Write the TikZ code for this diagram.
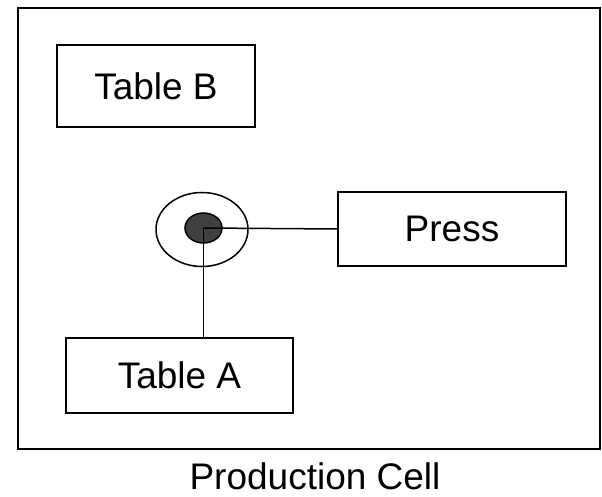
\documentclass[tikz,border=0pt]{standalone}
\usepackage{fontspec}
\setmainfont{Liberation Sans}
\usetikzlibrary{shapes.geometric}
\begin{document}
\begin{tikzpicture}[x=1pt,y=-1pt,
  box/.style={draw,line width=1.5pt,inner sep=0pt,font=\fontsize{37}{40}\selectfont},
  link/.style={line width=1.5pt}]
\useasboundingbox (0,0) rectangle (602,497);
\node[draw,line width=1.5pt,minimum width=582pt,minimum height=441pt,inner sep=0pt] (cell) at (309,228.5) {};
\node[box,minimum width=198pt,minimum height=82pt] (tableB) at (156,86) {Table B};
\node[box,minimum width=227pt,minimum height=75pt] (tableA) at (179.5,375.5) {Table A};
\node[box,minimum width=228pt,minimum height=74pt] (press) at (452,229) {Press};
\node[draw,ellipse,line width=1.5pt,minimum width=92pt,minimum height=74pt,inner sep=0pt] (ring) at (202,229.5) {};
\node[draw,ellipse,line width=1.5pt,fill=black!75,minimum width=37pt,minimum height=30pt,inner sep=0pt] (hub) at (203.5,228) {};
\draw[link] (hub.center) -- (press.west);
\draw[link] (hub.center) -- (hub.center |- tableA.north);
\node[anchor=base,font=\fontsize{37}{40}\selectfont,inner sep=0pt] (label) at (315,489) {Production Cell};
\end{tikzpicture}
\end{document}
